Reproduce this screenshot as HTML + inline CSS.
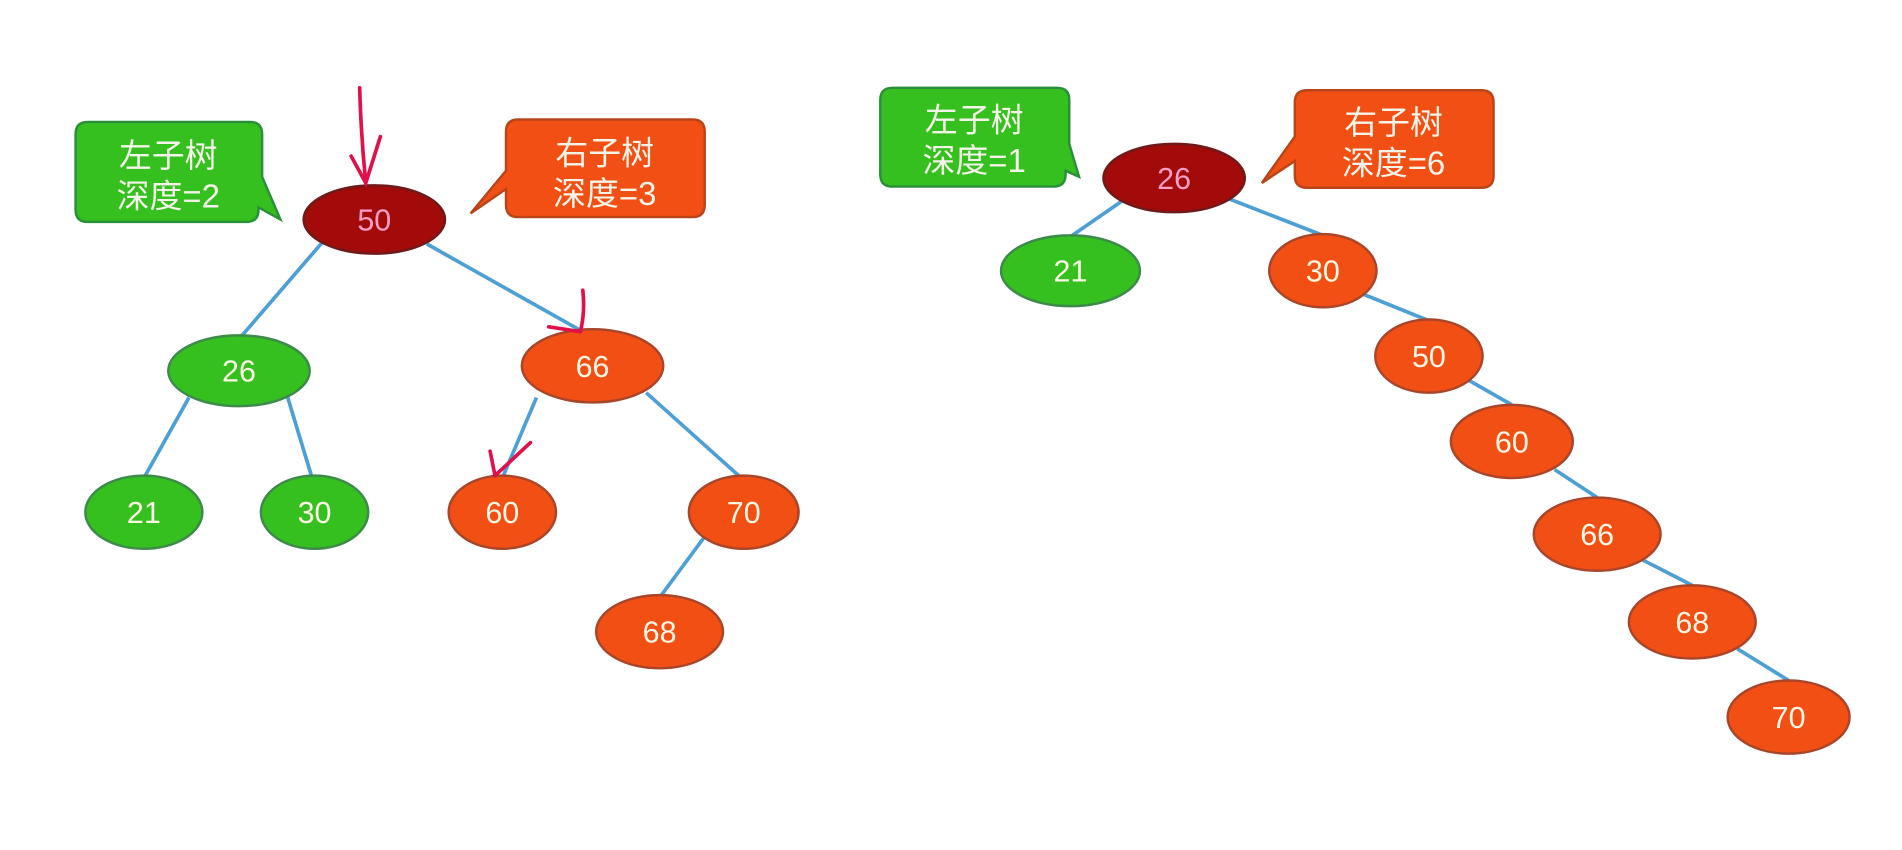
<!DOCTYPE html>
<html><head><meta charset="utf-8"><style>
html,body{margin:0;padding:0;background:#fff;}
svg{display:block;}
text{font-family:"Liberation Sans","Noto Sans CJK SC",sans-serif;}
</style></head><body>
<svg width="1902" height="850" viewBox="0 0 1560 697" preserveAspectRatio="none" xmlns="http://www.w3.org/2000/svg">
<g stroke="#4e9fd4" stroke-width="3" fill="none">
<line x1="265" y1="198" x2="196" y2="278"/>
<line x1="350" y1="200" x2="478" y2="272"/>
<line x1="155" y1="326" x2="118" y2="392"/>
<line x1="236" y1="326" x2="256" y2="392"/>
<line x1="440" y1="326" x2="412" y2="392"/>
<line x1="530" y1="322" x2="608" y2="392"/>
<line x1="578" y1="440" x2="541" y2="490"/>
<line x1="920" y1="165" x2="878" y2="194"/>
<line x1="1008" y1="163" x2="1085" y2="193"/>
<line x1="1115" y1="240" x2="1172" y2="263"/>
<line x1="1205" y1="312" x2="1240" y2="332"/>
<line x1="1275" y1="385" x2="1310" y2="408"/>
<line x1="1345" y1="458" x2="1388" y2="480"/>
<line x1="1425" y1="532" x2="1467" y2="558"/>
</g>
<g stroke-width="2">
<path d="M72 100 H205 Q215 100 215 110 V145 L230 180 L212 170 V172 Q212 182 202 182 H72 Q62 182 62 172 V110 Q62 100 72 100Z" fill="#36c020" stroke="#2a8f3a"/>
<path d="M425 98 H568 Q578 98 578 108 V168 Q578 178 568 178 H425 Q415 178 415 168 V155 L386 175 L415 140 V108 Q415 98 425 98Z" fill="#f24f14" stroke="#b8451a"/>
<path d="M732 72 H867 Q877 72 877 82 V118 L885 145 L874 140 V143 Q874 153 864 153 H732 Q722 153 722 143 V82 Q722 72 732 72Z" fill="#36c020" stroke="#2a8f3a"/>
<path d="M1072 74 H1215 Q1225 74 1225 84 V144 Q1225 154 1215 154 H1072 Q1062 154 1062 144 V132 L1035 150 L1062 112 V84 Q1062 74 1072 74Z" fill="#f24f14" stroke="#b8451a"/>
</g>
<g fill="#f4f4e8" font-size="27" text-anchor="middle">
<text x="138" y="137">左子树</text><text x="138" y="170">深度=2</text>
<text x="496" y="135">右子树</text><text x="496" y="168">深度=3</text>
<text x="799" y="108">左子树</text><text x="799" y="141">深度=1</text>
<text x="1143" y="110">右子树</text><text x="1143" y="143">深度=6</text>
</g>
<g stroke-width="2">
<ellipse cx="307" cy="180" rx="58" ry="28" fill="#a30a0a" stroke="#6e1a1a"/>
<ellipse cx="963" cy="146" rx="58" ry="28" fill="#a30a0a" stroke="#6e1a1a"/>
<g fill="#36c020" stroke="#3d8a4a">
<ellipse cx="196" cy="304" rx="58" ry="29"/>
<ellipse cx="118" cy="420" rx="48" ry="30"/>
<ellipse cx="258" cy="420" rx="44" ry="30"/>
<ellipse cx="878" cy="222" rx="57" ry="29"/>
</g>
<g fill="#f24f14" stroke="#a8452a">
<ellipse cx="486" cy="300" rx="58" ry="30"/>
<ellipse cx="412" cy="420" rx="44" ry="30"/>
<ellipse cx="610" cy="420" rx="45" ry="30"/>
<ellipse cx="541" cy="518" rx="52" ry="30"/>
<ellipse cx="1085" cy="222" rx="44" ry="30"/>
<ellipse cx="1172" cy="292" rx="44" ry="30"/>
<ellipse cx="1240" cy="362" rx="50" ry="30"/>
<ellipse cx="1310" cy="438" rx="52" ry="30"/>
<ellipse cx="1388" cy="510" rx="52" ry="30"/>
<ellipse cx="1467" cy="588" rx="50" ry="30"/>
</g>
</g>
<g font-size="25" text-anchor="middle" fill="#fbf7e4">
<text x="307" y="189" fill="#ff9ec4">50</text>
<text x="963" y="155" fill="#ff9ec4">26</text>
<text x="196" y="313">26</text><text x="118" y="429">21</text><text x="258" y="429">30</text>
<text x="878" y="231">21</text>
<text x="486" y="309">66</text><text x="412" y="429">60</text><text x="610" y="429">70</text><text x="541" y="527">68</text>
<text x="1085" y="231">30</text><text x="1172" y="301">50</text><text x="1240" y="371">60</text>
<text x="1310" y="447">66</text><text x="1388" y="519">68</text><text x="1467" y="597">70</text>
</g>
<g stroke="#e0104a" stroke-width="3" fill="none" stroke-linecap="round">
<path d="M295 72 Q296 110 300 150"/>
<path d="M288 128 L300 150 L312 112"/>
<path d="M478 238 Q480 256 476 272 M450 268 L476 272"/>
<path d="M435 363 L406 390 M402 370 L406 390"/>
</g>
</svg>
</body></html>
